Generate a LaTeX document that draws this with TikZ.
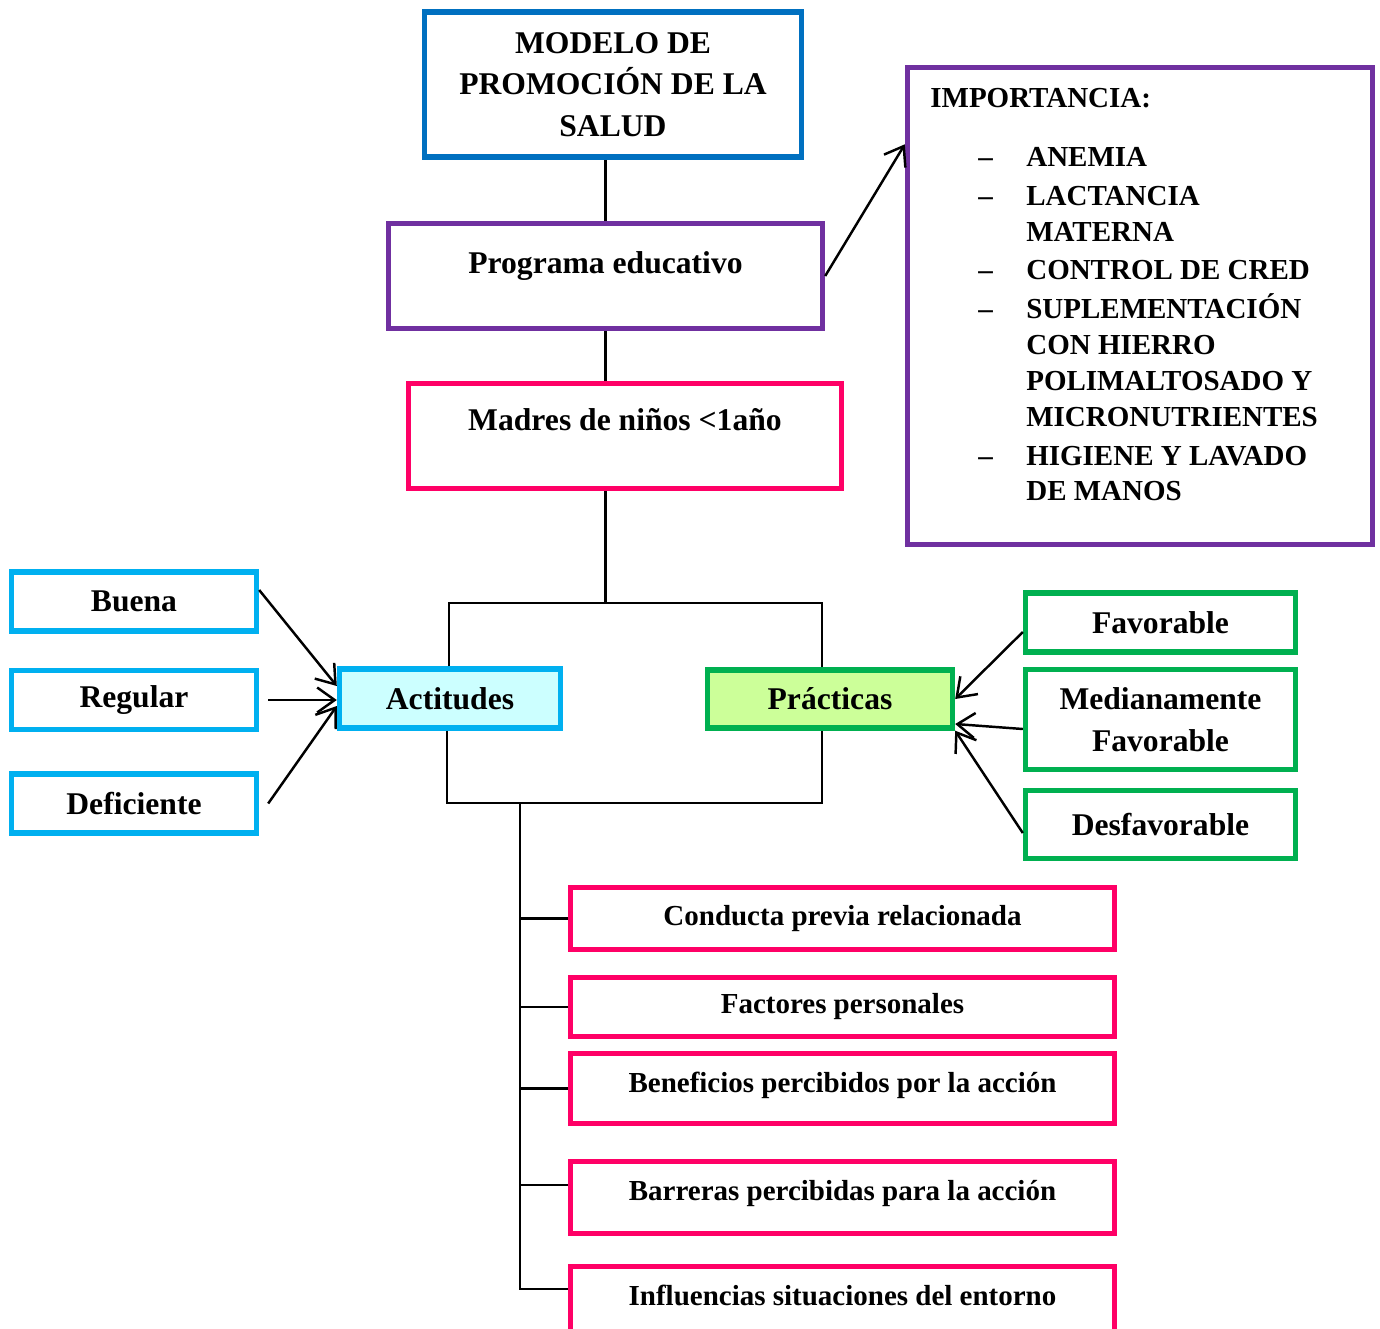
\documentclass[tikz,border=0pt]{standalone}
\usepackage{fontspec}
\setmainfont{Liberation Serif}
\usetikzlibrary{arrows.meta}

\definecolor{azul}{RGB}{0,112,192}
\definecolor{morado}{RGB}{112,48,160}
\definecolor{rosa}{RGB}{255,0,102}
\definecolor{celeste}{RGB}{0,176,240}
\definecolor{verde}{RGB}{0,176,80}
\definecolor{celesteclaro}{RGB}{204,255,255}
\definecolor{verdeclaro}{RGB}{204,255,153}

\newcommand{\grande}{\fontsize{18}{23.8}\selectfont\bfseries}
\newcommand{\medio}{\fontsize{16.5}{20.4}\selectfont\bfseries}
\newcommand{\imp}[1]{\makebox[1.92cm][l]{\hspace{0.96cm}–}#1}
\newcommand{\cont}[1]{\hspace*{1.92cm}#1}

\tikzstyle{caja} = [rectangle, line width=3.1pt, align=center, inner sep=0pt]
\tikzstyle{morada} = [caja, draw=morado]
\tikzstyle{rosada} = [caja, draw=rosa]
\tikzstyle{nivel} = [caja, draw=celeste, minimum width=4.9cm, minimum height=1.18cm, font=\grande]
\tikzstyle{opcion} = [caja, draw=verde, minimum width=5.4cm, font=\grande]
\tikzstyle{factor} = [rosada, minimum width=10.88cm, font=\medio]
\tikzstyle{linea} = [line width=1.5pt]
\tikzstyle{flecha} = [line width=1.4pt, -{Straight Barb[length=0.35cm,width=0.5cm]}]
\tikzset{subido/.style={text height=0.5cm, text depth=#1}}

\begin{document}
\begin{tikzpicture}[x=0.02cm, y=-0.02cm]
	\useasboundingbox (0,0) rectangle (1380,1329);

	\node[caja, draw=azul, minimum width=7.54cm, minimum height=2.9cm, font=\grande] (modelo) at (613,84.5) {MODELO DE\\PROMOCIÓN DE LA\\SALUD};
	\node[morada, minimum width=8.68cm, minimum height=2.1cm, font=\grande, subido=0.6cm] (programa) at (605.5,276) {Programa educativo};
	\node[rosada, minimum width=8.66cm, minimum height=2.1cm, font=\grande, subido=0.72cm] (madres) at (625,436) {Madres de niños <1año};

	\node[morada, minimum width=9.3cm, minimum height=9.54cm] (importancia) at (1140,306) {};
	\node[anchor=north west, align=left, inner sep=0pt, font=\medio] (lista) at (930,88) {IMPORTANCIA:\\[0.46cm]
		\imp{ANEMIA}\\[0.06cm]
		\imp{LACTANCIA}\\
		\cont{MATERNA}\\[0.06cm]
		\imp{CONTROL DE CRED}\\[0.06cm]
		\imp{SUPLEMENTACIÓN}\\
		\cont{CON HIERRO}\\
		\cont{POLIMALTOSADO Y}\\
		\cont{MICRONUTRIENTES}\\[0.06cm]
		\imp{HIGIENE Y LAVADO}\\
		\cont{DE MANOS}};

	\node[nivel] (buena) at (134,601.5) {Buena};
	\node[nivel] (regular) at (134,700) {Regular};
	\node[nivel] (deficiente) at (134,803.5) {Deficiente};
	\node[nivel, fill=celesteclaro, minimum width=4.42cm] (actitudes) at (450,698.5) {Actitudes};

	\node[caja, draw=verde, fill=verdeclaro, minimum width=4.9cm, minimum height=1.16cm, font=\grande] (practicas) at (830,699) {Prácticas};
	\node[opcion, minimum height=1.18cm] (favorable) at (1160.5,622.5) {Favorable};
	\node[opcion, minimum height=2cm] (medianamente) at (1160.5,719.5) {Medianamente\\Favorable};
	\node[opcion, minimum height=1.36cm] (desfavorable) at (1160.5,824.5) {Desfavorable};

	\node[factor, minimum height=1.24cm] (conducta) at (842.5,918.5) {Conducta previa relacionada};
	\node[factor, minimum height=1.18cm] (factores) at (842.5,1007) {Factores personales};
	\node[factor, minimum height=1.4cm, subido=0.34cm] (beneficios) at (842.5,1088.5) {Beneficios percibidos por la acción};
	\node[factor, minimum height=1.44cm, subido=0.38cm] (barreras) at (842.5,1197.5) {Barreras percibidas para la acción};
	\node[factor, minimum height=1.64cm, subido=0.58cm] (influencias) at (842.5,1307.5) {Influencias situaciones del entorno};

	\coordinate (arriba) at (605.5,603);
	\coordinate (izq) at (449,603);
	\coordinate (der) at (822,603);
	\coordinate (izqb) at (447,803);
	\coordinate (derb) at (822,803);
	\coordinate (tronco) at (520,803);

	\draw[linea] (programa.north) -- (programa.north |- modelo.south);
	\draw[linea] (programa.south) -- (programa.south |- madres.north);
	\draw[linea] (arriba |- madres.south) -- (arriba);
	\draw[linea] (izq |- actitudes.north) |- (der) -- (der |- practicas.north);
	\draw[linea] (izqb |- actitudes.south) |- (derb) -- (derb |- practicas.south);
	\draw[linea] ([yshift=0.37cm]influencias.west) coordinate (ri) -| (tronco);
	\draw[linea] (tronco |- conducta.west) -- (conducta.west);
	\draw[linea] (tronco |- factores.west) -- (factores.west);
	\draw[linea] (tronco |- beneficios.west) -- (beneficios.west);
	\draw[linea] ([yshift=0.25cm]barreras.west) coordinate (rb) -- (tronco |- rb);

	\draw[flecha] ([yshift=0.23cm]buena.east) -- ([yshift=0.25cm]actitudes.west);
	\draw[flecha] ([xshift=0.18cm]regular.east) -- (actitudes.west |- regular.east);
	\draw[flecha] ([xshift=0.18cm]deficiente.east) -- ([yshift=-0.15cm]actitudes.west);
	\draw[flecha] ([yshift=-0.19cm]favorable.west) -- (practicas.east);
	\draw[flecha] ([yshift=-0.19cm]medianamente.west) -- ([yshift=-0.5cm]practicas.east);
	\draw[flecha] ([yshift=-0.17cm]desfavorable.west) -- (practicas.south east);
	\draw[flecha] (programa.east) -- ([yshift=-1.59cm]importancia.north west);

\end{tikzpicture}
\end{document}
